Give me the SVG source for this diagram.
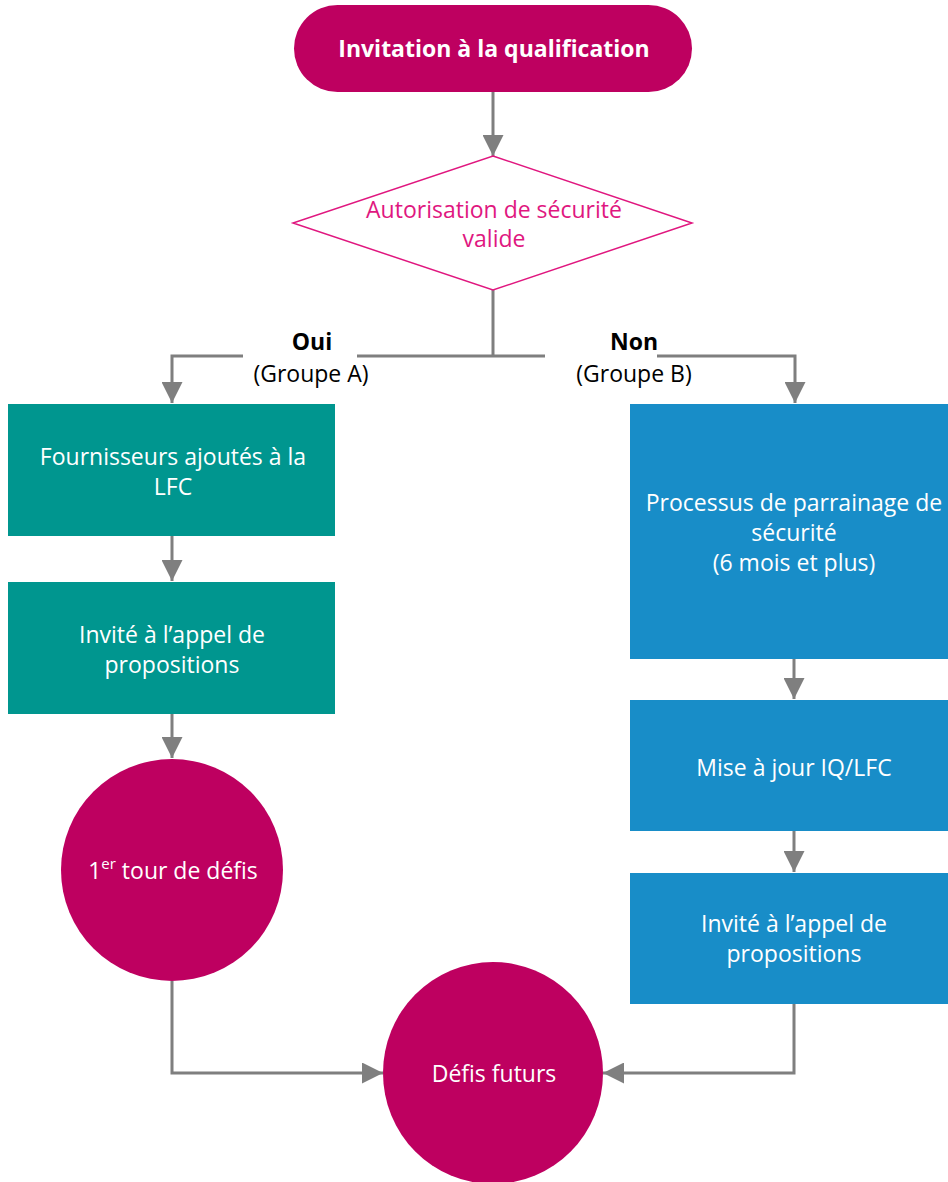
<svg xmlns="http://www.w3.org/2000/svg" width="948" height="1182" viewBox="0 0 948 1182">
<style>
.t{font-family:"Open Sans","Noto Sans","Liberation Sans",sans-serif;font-size:23px;fill:#fff;text-anchor:middle}
.b{font-weight:bold}
.lbl{font-family:"Open Sans","Noto Sans","Liberation Sans",sans-serif;font-size:23px;fill:#000;text-anchor:middle}
.con{fill:none;stroke:#7f7f7f;stroke-width:3}
.mag{fill:#be0060}
.grn{fill:#00968f}
.blu{fill:#188dc8}
</style>
<defs>
<marker id="ah" viewBox="0 0 10 10" refX="10" refY="5" markerWidth="7" markerHeight="7" markerUnits="strokeWidth" orient="auto">
<path d="M0,0 L10,5 L0,10 z" fill="#7f7f7f"/>
</marker>
</defs>
<g id="connectors">
<path class="con" d="M493,92 V156" marker-end="url(#ah)"/>
<path class="con" d="M493,290 V356"/>
<path class="con" d="M493,356 H357 M243,356 H172 V403" marker-end="url(#ah)"/>
<path class="con" d="M493,356 H545 M657,356 H795 V403" marker-end="url(#ah)"/>
<path class="con" d="M172,536 V581" marker-end="url(#ah)"/>
<path class="con" d="M172,714 V758" marker-end="url(#ah)"/>
<path class="con" d="M172,981 V1073 H383" marker-end="url(#ah)"/>
<path class="con" d="M794,659 V699" marker-end="url(#ah)"/>
<path class="con" d="M794,831 V872" marker-end="url(#ah)"/>
<path class="con" d="M794,1004 V1073 H603" marker-end="url(#ah)"/>
</g>
<g id="lbl-oui">
<text class="lbl b" x="312" y="350">Oui</text>
<text class="lbl" x="311" y="382">(Groupe A)</text>
</g>
<g id="lbl-non">
<text class="lbl b" x="634" y="350">Non</text>
<text class="lbl" x="634" y="382">(Groupe B)</text>
</g>
<g id="start">
<rect class="mag" x="294" y="5" width="398" height="87" rx="43.5"/>
<text class="t b" x="494" y="57" font-size="24.5">Invitation à la qualification</text>
</g>
<g id="decision">
<polygon points="493,156 692,223 493,290 293,223" fill="#fff" stroke="#e0177f" stroke-width="1.5"/>
<text class="t" x="494" y="218" style="fill:#e0177f">Autorisation de sécurité</text>
<text class="t" x="494" y="247" style="fill:#e0177f">valide</text>
</g>
<g id="a1">
<rect class="grn" x="8" y="404" width="327" height="132"/>
<text class="t" x="173" y="465">Fournisseurs ajoutés à la</text>
<text class="t" x="173" y="495">LFC</text>
</g>
<g id="a2">
<rect class="grn" x="8" y="582" width="327" height="132"/>
<text class="t" x="172" y="643">Invité à l’appel de</text>
<text class="t" x="172" y="673">propositions</text>
</g>
<g id="a3">
<circle class="mag" cx="172" cy="870" r="111"/>
<text class="t" x="173" y="879">1<tspan font-size="15" dy="-10">er</tspan><tspan dy="10"> tour de défis</tspan></text>
</g>
<g id="b1">
<rect class="blu" x="630" y="404" width="318" height="255"/>
<text class="t" x="794" y="511">Processus de parrainage de</text>
<text class="t" x="794" y="541">sécurité</text>
<text class="t" x="794" y="571">(6 mois et plus)</text>
</g>
<g id="b2">
<rect class="blu" x="630" y="700" width="318" height="131"/>
<text class="t" x="794" y="776">Mise à jour IQ/LFC</text>
</g>
<g id="b3">
<rect class="blu" x="630" y="873" width="318" height="131"/>
<text class="t" x="794" y="932">Invité à l’appel de</text>
<text class="t" x="794" y="962">propositions</text>
</g>
<g id="end">
<ellipse class="mag" cx="493" cy="1073" rx="110" ry="111"/>
<text class="t" x="494" y="1082">Défis futurs</text>
</g>
</svg>
